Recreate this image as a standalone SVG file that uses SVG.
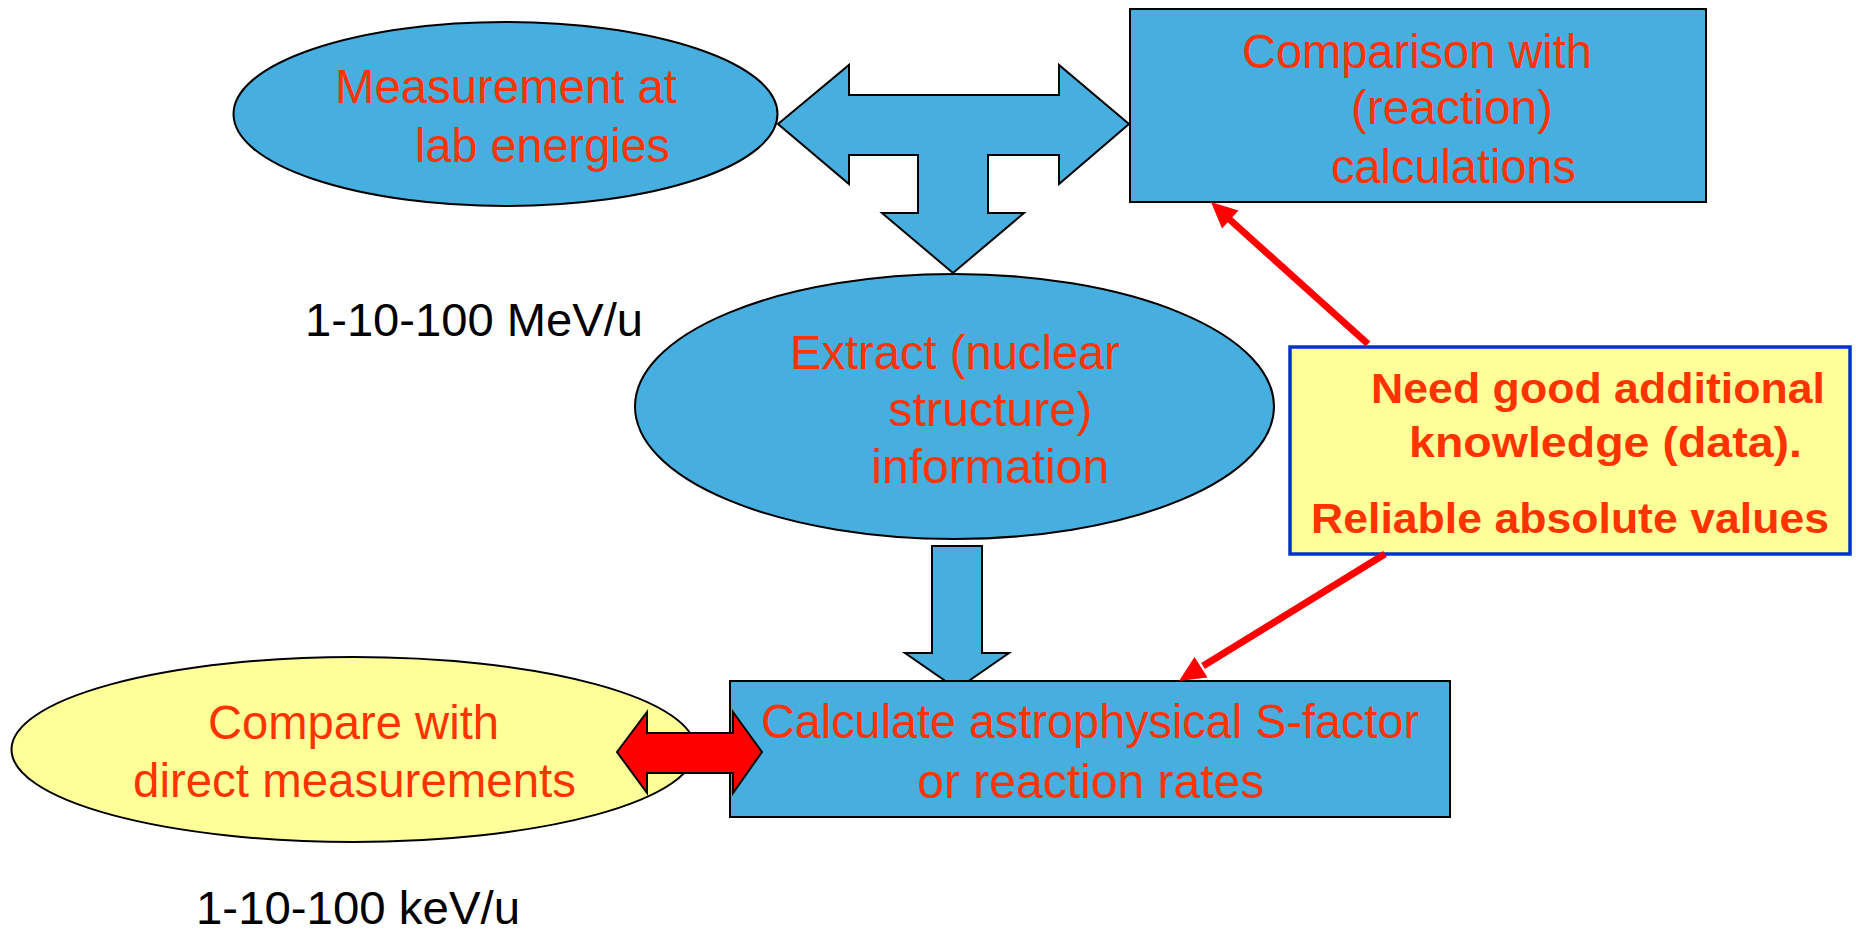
<svg xmlns="http://www.w3.org/2000/svg" width="1856" height="934" viewBox="0 0 1856 934">
<style>
.blue{fill:#47afdf;stroke:#000;stroke-width:2}
.ell{stroke:#000;stroke-width:2}
.lbl{font-family:"Liberation Sans",Arial,sans-serif;font-size:48px;fill:#ff3300}
.blk{font-family:"Liberation Sans",Arial,sans-serif;font-size:46px;fill:#000}
.bld{font-family:"Liberation Sans",Arial,sans-serif;font-size:43px;font-weight:bold;fill:#ff3300}
.red{stroke:#ff0000;stroke-width:7;fill:none}
.redhead{fill:#ff0000}
</style>
<rect width="1856" height="934" fill="#fff"/>

<g id="connectors">
  <polygon id="t-arrow" class="blue" points="778,124 849,65 849,95 1059,95 1059,65 1129,124 1059,184 1059,155 988,155 988,213 1024,213 953,273 882,213 918,213 918,155 849,155 849,184"/>
  <polygon id="down-arrow" class="blue" points="932,546 982,546 982,653 1009,653 957,689 905,653 932,653"/>
</g>

<g id="measurement">
  <ellipse class="ell" cx="505.5" cy="114" rx="272" ry="92" fill="#47afdf"/>
  <text class="lbl" x="335" y="103" textLength="342" lengthAdjust="spacingAndGlyphs">Measurement at</text>
  <text class="lbl" x="415" y="162" textLength="255" lengthAdjust="spacingAndGlyphs">lab energies</text>
</g>

<g id="comparison">
  <rect class="blue" x="1130" y="9" width="576" height="193"/>
  <text class="lbl" x="1242" y="68" textLength="350" lengthAdjust="spacingAndGlyphs">Comparison with</text>
  <text class="lbl" x="1351" y="124" textLength="202" lengthAdjust="spacingAndGlyphs">(reaction)</text>
  <text class="lbl" x="1331" y="183" textLength="245" lengthAdjust="spacingAndGlyphs">calculations</text>
</g>

<g id="extract">
  <ellipse class="ell" cx="954.5" cy="406.5" rx="319.5" ry="132.5" fill="#47afdf"/>
  <text class="lbl" x="790" y="369" textLength="330" lengthAdjust="spacingAndGlyphs">Extract (nuclear</text>
  <text class="lbl" x="888" y="426" textLength="204" lengthAdjust="spacingAndGlyphs">structure)</text>
  <text class="lbl" x="871" y="483" textLength="238" lengthAdjust="spacingAndGlyphs">information</text>
</g>

<g id="mev-label">
  <text class="blk" x="305" y="336" textLength="338" lengthAdjust="spacingAndGlyphs">1-10-100 MeV/u</text>
</g>

<g id="need-data">
  <rect x="1290" y="347" width="560" height="207" fill="#ffff99" stroke="#0033cc" stroke-width="3.5"/>
  <text class="bld" x="1371" y="403" textLength="454" lengthAdjust="spacingAndGlyphs">Need good additional</text>
  <text class="bld" x="1409" y="457" textLength="393" lengthAdjust="spacingAndGlyphs">knowledge (data).</text>
  <text class="bld" x="1311" y="533" textLength="518" lengthAdjust="spacingAndGlyphs">Reliable absolute values</text>
</g>

<g id="compare-direct">
  <ellipse class="ell" cx="353.5" cy="749.5" rx="342" ry="92.5" fill="#ffff99"/>
  <text class="lbl" x="208" y="739" textLength="291" lengthAdjust="spacingAndGlyphs">Compare with</text>
  <text class="lbl" x="133" y="797" textLength="443" lengthAdjust="spacingAndGlyphs">direct measurements</text>
</g>

<g id="calculate">
  <rect class="blue" x="730" y="681" width="720" height="136"/>
  <text class="lbl" x="761" y="738" textLength="658" lengthAdjust="spacingAndGlyphs">Calculate astrophysical S-factor</text>
  <text class="lbl" x="917" y="798" textLength="347" lengthAdjust="spacingAndGlyphs">or reaction rates</text>
</g>

<g id="kev-label">
  <text class="blk" x="196" y="924" font-size="45" textLength="324" lengthAdjust="spacingAndGlyphs">1-10-100 keV/u</text>
</g>

<g id="red-connectors">
  <polygon id="red-double" points="617,752 647,712 647,733 733,733 733,712 762,752 733,793 733,773 647,773 647,793" fill="#ff0000" stroke="#000" stroke-width="2"/>
  <line class="red" x1="1368" y1="344" x2="1228" y2="218"/>
  <polygon class="redhead" points="1211,202 1238.5,210.5 1222,228.5"/>
  <line class="red" x1="1385" y1="554" x2="1203" y2="666"/>
  <polygon class="redhead" points="1179,681 1207.5,677.5 1194.5,657"/>
</g>
</svg>
